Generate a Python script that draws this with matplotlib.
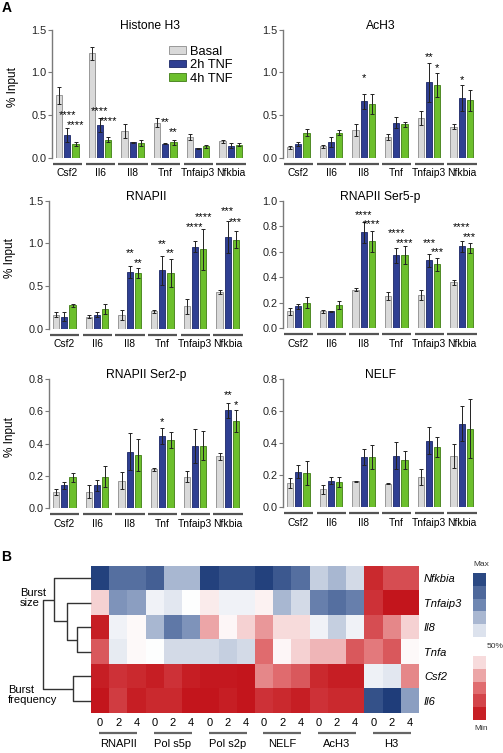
import numpy as np
import matplotlib
matplotlib.use("Agg")
import matplotlib.pyplot as plt
import matplotlib.transforms as mtransforms
from matplotlib.colors import LinearSegmentedColormap
from matplotlib.ticker import FormatStrFormatter

plt.rcParams['font.family'] = ['Liberation Sans', 'DejaVu Sans']

W, H = 503, 753

genes = ["Csf2", "Il6", "Il8", "Tnf", "Tnfaip3", "Nfkbia"]
conditions = ["Basal", "2h TNF", "4h TNF"]

# ---- panel A data: [basal, 2h, 4h] x genes ----
h3_mean = [[0.73, 1.22, 0.31, 0.41, 0.24, 0.19],
           [0.26, 0.38, 0.18, 0.16, 0.11, 0.14],
           [0.16, 0.21, 0.17, 0.18, 0.13, 0.15]]
h3_err = [[0.10, 0.08, 0.08, 0.05, 0.03, 0.02],
          [0.08, 0.08, 0.005, 0.005, 0.005, 0.03],
          [0.02, 0.03, 0.03, 0.03, 0.02, 0.02]]
h3_stars = [(0, 1, "****", 0.54), (0, 2, "****", 0.42), (1, 1, "****", 0.58),
            (1, 2, "****", 0.47), (3, 1, "**", 0.45), (3, 2, "**", 0.34)]

ach3_mean = [[0.12, 0.13, 0.32, 0.24, 0.46, 0.36],
             [0.16, 0.18, 0.66, 0.41, 0.88, 0.70],
             [0.29, 0.29, 0.63, 0.39, 0.85, 0.67]]
ach3_err = [[0.02, 0.02, 0.07, 0.03, 0.08, 0.03],
            [0.02, 0.06, 0.09, 0.06, 0.23, 0.15],
            [0.04, 0.03, 0.12, 0.03, 0.14, 0.12]]
ach3_stars = [(2, 1, "*", 0.97), (4, 1, "**", 1.22), (4, 2, "*", 1.09), (5, 1, "*", 0.95)]

pol_mean = [[0.16, 0.14, 0.16, 0.20, 0.26, 0.43],
            [0.14, 0.16, 0.66, 0.68, 0.96, 1.07],
            [0.27, 0.23, 0.65, 0.65, 0.93, 1.04]]
pol_err = [[0.03, 0.02, 0.06, 0.02, 0.09, 0.02],
           [0.05, 0.03, 0.07, 0.17, 0.06, 0.19],
           [0.02, 0.06, 0.06, 0.16, 0.24, 0.10]]
pol_stars = [(2, 1, "**", 0.92), (2, 2, "**", 0.81), (3, 1, "**", 1.03), (3, 2, "**", 0.92),
             (4, 1, "****", 1.23), (4, 2, "****", 1.34), (5, 1, "***", 1.41), (5, 2, "***", 1.29)]

ser5_mean = [[0.13, 0.13, 0.30, 0.25, 0.26, 0.36],
             [0.17, 0.13, 0.75, 0.57, 0.53, 0.64],
             [0.20, 0.18, 0.68, 0.57, 0.50, 0.63]]
ser5_err = [[0.03, 0.01, 0.01, 0.03, 0.04, 0.02],
            [0.02, 0.005, 0.08, 0.06, 0.05, 0.04],
            [0.04, 0.03, 0.08, 0.07, 0.05, 0.04]]
ser5_stars = [(2, 1, "****", 0.91), (2, 2, "****", 0.84), (3, 1, "****", 0.77), (3, 2, "****", 0.69),
              (4, 1, "***", 0.69), (4, 2, "***", 0.62), (5, 1, "****", 0.82), (5, 2, "***", 0.74)]

ser2_mean = [[0.10, 0.10, 0.17, 0.24, 0.195, 0.32],
             [0.14, 0.14, 0.35, 0.445, 0.385, 0.605],
             [0.19, 0.195, 0.33, 0.42, 0.385, 0.54]]
ser2_err = [[0.02, 0.04, 0.055, 0.01, 0.035, 0.02],
            [0.02, 0.035, 0.115, 0.05, 0.105, 0.045],
            [0.03, 0.065, 0.10, 0.05, 0.09, 0.07]]
ser2_stars = [(3, 1, "*", 0.55), (5, 1, "**", 0.72), (5, 2, "*", 0.66)]

nelf_mean = [[0.15, 0.11, 0.16, 0.145, 0.19, 0.32],
             [0.22, 0.165, 0.31, 0.32, 0.415, 0.52],
             [0.21, 0.155, 0.31, 0.295, 0.375, 0.49]]
nelf_err = [[0.03, 0.03, 0.003, 0.003, 0.05, 0.075],
            [0.04, 0.02, 0.05, 0.085, 0.085, 0.11],
            [0.075, 0.03, 0.075, 0.055, 0.065, 0.185]]
nelf_stars = []

# ---- panel B data ----
heat_rows = ["Nfkbia", "Tnfaip3", "Il8", "Tnfa", "Csf2", "Il6"]
heat_groups = ["RNAPII", "Pol s5p", "Pol s2p", "NELF", "AcH3", "H3"]
heat_times = ["0", "2", "4"]
heat_values = np.array([
    [0.95, 0.65, 0.65, 0.75, 0.30, 0.30, 0.95, 0.85, 0.85, 0.95, 0.80, 0.65, 0.20, 0.30, 0.15, -0.85, -0.65, -0.65],
    [-0.15, 0.45, 0.40, 0.05, 0.10, 0.00, -0.07, 0.05, 0.05, -0.04, 0.30, 0.15, 0.55, 0.65, 0.55, -0.80, -0.95, -0.95],
    [-0.90, 0.05, -0.02, 0.30, 0.60, 0.45, -0.30, -0.03, -0.15, -0.35, -0.12, -0.12, 0.05, 0.20, 0.05, -0.65, -0.40, -0.15],
    [-0.60, 0.08, -0.02, 0.00, 0.15, 0.15, 0.15, 0.20, 0.15, -0.50, -0.03, -0.15, -0.25, -0.25, -0.60, -0.45, -0.60, -0.02],
    [-0.90, -0.80, -0.85, -0.90, -0.80, -0.90, -0.93, -0.93, -0.95, -0.40, -0.50, -0.60, -0.85, -0.90, -0.90, 0.06, 0.10, -0.40],
    [-0.95, -0.75, -0.90, -0.85, -0.85, -0.95, -0.95, -0.90, -0.95, -0.80, -0.85, -0.90, -0.80, -0.85, -0.85, 0.85, 0.97, 0.40],
])
# dendrogram merges (child a, child b, height); leaves 0-5, new nodes 6..10
dendro_merges = [(2, 3, 0.30), (1, 6, 0.51), (0, 7, 0.776), (4, 5, 0.37), (8, 9, 1.0)]
legend_levels = [0.9, 0.7, 0.5, 0.3, 0.12, -0.12, -0.3, -0.5, -0.7, -0.9]

fills = ["#d9d9d9", "#2f3f92", "#6cbf2c"]
edges = ["#8c8c8c", "#1b2766", "#3f7d15"]
offs = [-0.25, 0.0, 0.25]

fig = plt.figure(figsize=(W / 100, H / 100), dpi=100)


def px_axes(l, t, r, b):
    return fig.add_axes([l / W, 1 - b / H, (r - l) / W, (b - t) / H])


def bar_panel(box, means, errs, stars, ymax, step, title, ylabel=False, legend=False):
    ax = px_axes(*box)
    x = np.arange(len(genes))
    for k in range(3):
        ax.bar(x + offs[k], means[k], width=0.19, yerr=errs[k], color=fills[k],
               edgecolor=edges[k], linewidth=0.6, label=conditions[k],
               error_kw=dict(ecolor="#222222", elinewidth=0.7, capsize=1.5, capthick=0.7))
    for g, s, txt, y in stars:
        ax.annotate(txt, (x[g] + offs[s], y), xytext=(0, -4.5), textcoords="offset points",
                    ha="center", va="baseline", fontsize=8)
    ax.set_xlim(-0.47, 5.5)
    ax.set_ylim(0, ymax)
    ax.set_yticks(np.arange(0, ymax + step / 2, step))
    ax.yaxis.set_major_formatter(FormatStrFormatter("%.1f"))
    for sp in ["top", "right", "bottom"]:
        ax.spines[sp].set_visible(False)
    ax.spines["left"].set_color("#7a7a7a")
    ax.spines["left"].set_linewidth(1.0)
    ax.tick_params(axis="y", length=3, width=0.8, color="#7a7a7a", labelsize=7.8,
                   labelcolor="#222222", pad=1)
    ax.set_xticks(x)
    ax.set_xticklabels(genes)
    ax.tick_params(axis="x", length=0, labelsize=7.4, pad=7.8)
    trans = mtransforms.blended_transform_factory(ax.transData, ax.transAxes)
    for g in x:
        ax.plot([g - 0.44, g + 0.46], [-0.047, -0.047], transform=trans, color="#555555",
                lw=1.6, clip_on=False, solid_capstyle="butt")
    ax.text(0.5, 1.03, title, transform=ax.transAxes, ha="center", va="center", fontsize=8.7)
    if ylabel:
        ax.set_ylabel("% Input", fontsize=8.5)
        ax.yaxis.set_label_coords(-33 / 195, 0.55)
    if legend:
        ax.legend(loc="upper left", bbox_to_anchor=(0.6, 0.875), frameon=False, fontsize=9.3,
                  borderpad=0, borderaxespad=0, handlelength=1.35, handleheight=0.55,
                  handletextpad=0.3, labelspacing=0.12)
    return ax


bar_panel((52, 29.5, 247, 157.5), h3_mean, h3_err, h3_stars, 1.5, 0.5, "Histone H3", True, True)
bar_panel((283, 29.5, 478, 157.5), ach3_mean, ach3_err, ach3_stars, 1.5, 0.5, "AcH3")
bar_panel((49, 200.5, 244, 328.5), pol_mean, pol_err, pol_stars, 1.5, 0.5, "RNAPII", True)
bar_panel((283, 200.5, 478, 328), ser5_mean, ser5_err, ser5_stars, 1.0, 0.2, "RNAPII Ser5-p")
bar_panel((49, 379, 244, 508), ser2_mean, ser2_err, ser2_stars, 0.8, 0.2, "RNAPII Ser2-p", True)
bar_panel((283, 379, 478, 507), nelf_mean, nelf_err, nelf_stars, 0.8, 0.2, "NELF")

# ---- panel B: heatmap ----
cmap = LinearSegmentedColormap.from_list(
    "rwb", [(0, "#c10d14"), (0.25, "#e06b6e"), (0.5, "#ffffff"), (0.75, "#7088b3"), (1, "#1b3a78")])

hax = px_axes(91, 566, 419, 713)
hax.imshow(heat_values, cmap=cmap, vmin=-1, vmax=1, aspect="auto", interpolation="nearest")
for sp in hax.spines.values():
    sp.set_visible(False)
hax.set_xticks(np.arange(heat_values.shape[1]))
hax.set_xticklabels(heat_times * len(heat_groups))
hax.tick_params(axis="x", length=0, labelsize=8, pad=3.6)
hax.yaxis.tick_right()
hax.set_yticks(np.arange(len(heat_rows)))
hax.set_yticklabels(heat_rows, fontstyle="italic")
hax.tick_params(axis="y", length=0, labelsize=8, pad=3.6)
htrans = mtransforms.blended_transform_factory(hax.transData, hax.transAxes)
for i, name in enumerate(heat_groups):
    c = 3 * i + 1
    hax.plot([c - 1.05, c + 1.05], [-0.136, -0.136], transform=htrans, color="#666666",
             lw=1.6, clip_on=False, solid_capstyle="butt")
    hax.text(c, -0.211, name, transform=htrans, ha="center", va="center", fontsize=8)

# dendrogram
dax = px_axes(43.3, 566, 91, 713)
dax.set_xlim(1.0, 0)
dax.set_ylim(len(heat_rows) - 0.5, -0.5)
dax.axis("off")
pos = {i: float(i) for i in range(len(heat_rows))}
hgt = {i: 0.0 for i in range(len(heat_rows))}
for n, (a, b, h) in enumerate(dendro_merges):
    node = len(heat_rows) + n
    dax.plot([hgt[a], h, h, hgt[b]], [pos[a], pos[a], pos[b], pos[b]], color="#333333",
             lw=1.0, clip_on=False, solid_capstyle="butt")
    pos[node] = (pos[a] + pos[b]) / 2
    hgt[node] = h

fig.text(20 / W, 1 - 598 / H, "Burst\nsize", ha="left", va="center", fontsize=8, linespacing=1.1)
fig.text(8 / W, 1 - 695 / H, "Burst\nfrequency", ha="left", va="center", fontsize=8, linespacing=1.1)

# discrete colour key
kax = px_axes(473, 573, 486, 720)
kpos = [0, 1, 2, 3, 4, 6.5, 7.5, 8.5, 9.5, 10.5]
kax.bar(np.zeros(len(legend_levels)), np.ones(len(legend_levels)), bottom=kpos, width=1.0,
        color=[cmap((v + 1) / 2) for v in legend_levels], align="center")
kax.set_xlim(-0.5, 0.5)
kax.set_ylim(11.5, 0)
kax.axis("off")
fig.text(481 / W, 1 - 565 / H, "Max", ha="center", va="center", fontsize=6, color="#333333")
fig.text(481 / W, 1 - 728 / H, "Min", ha="center", va="center", fontsize=6, color="#333333")
fig.text(495 / W, 1 - 646 / H, "50%", ha="center", va="center", fontsize=6, color="#333333")

fig.text(2 / W, 1 - 8 / H, "A", ha="left", va="center", fontsize=10, fontweight="bold")
fig.text(1 / W, 1 - 557 / H, "B", ha="left", va="center", fontsize=10, fontweight="bold")

fig.savefig("out.png", dpi=100)
